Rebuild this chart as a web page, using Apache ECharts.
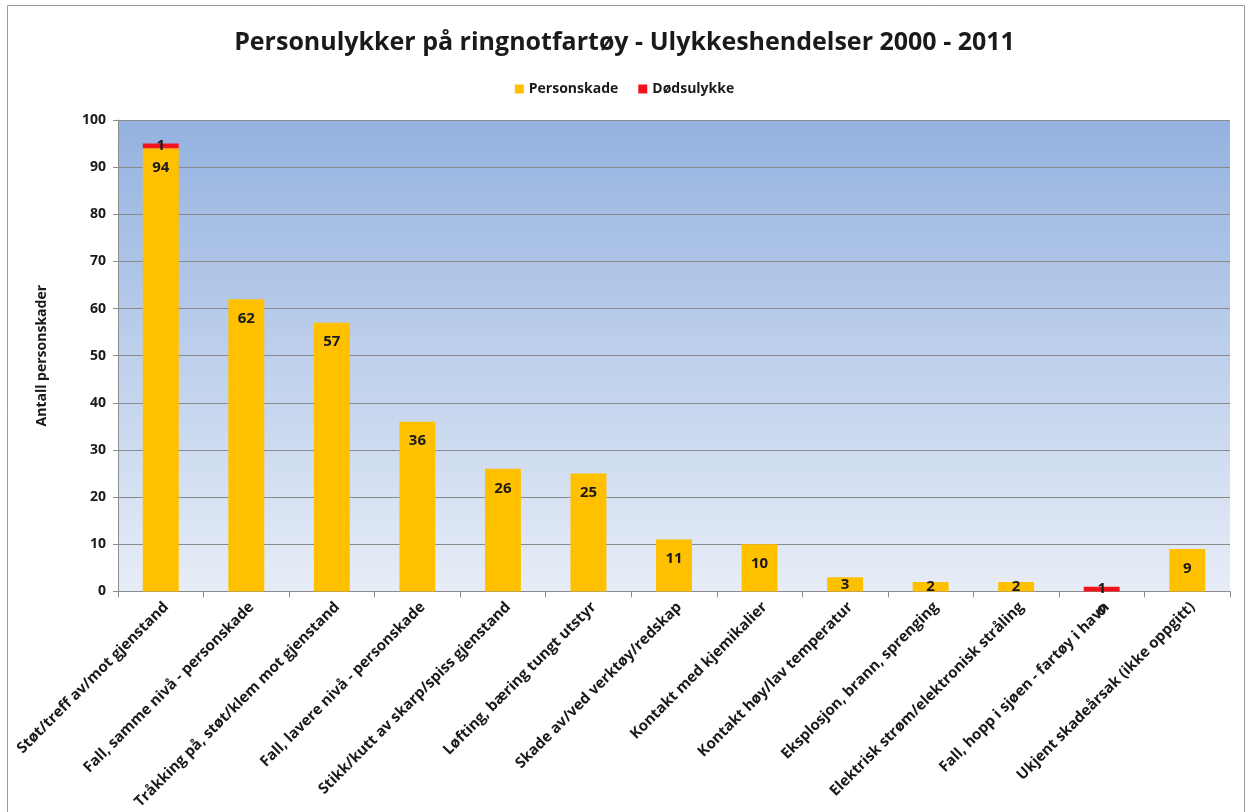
<!DOCTYPE html>
<html>
<head>
<meta charset="utf-8">
<script src="https://cdn.jsdelivr.net/npm/echarts@6/dist/echarts.min.js"></script>
<style>
  html, body { margin: 0; padding: 0; background: #ffffff; }
  #chart { width: 1249px; height: 812px; }
</style>
</head>
<body>
<div id="chart"></div>
<script>
// Skadeårsaker (kategorier)
const categories = [
  'Støt/treff av/mot gjenstand',
  'Fall, samme nivå - personskade',
  'Tråkking på, støt/klem mot gjenstand',
  'Fall, lavere nivå - personskade',
  'Stikk/kutt av skarp/spiss gjenstand',
  'Løfting, bæring tungt utstyr',
  'Skade av/ved verktøy/redskap',
  'Kontakt med kjemikalier',
  'Kontakt høy/lav temperatur',
  'Eksplosjon, brann, sprenging',
  'Elektrisk strøm/elektronisk stråling',
  'Fall, hopp i sjøen - fartøy i havn',
  'Ukjent skadeårsak (ikke oppgitt)'
];
// Personskader per kategori
const personskade = [94, 62, 57, 36, 26, 25, 11, 10, 3, 2, 2, 0, 9];
// Dødsulykker per kategori (kun der det finnes)
const dodsulykke = [1, null, null, null, null, null, null, null, null, null, null, 1, null];
const yTicks = { min: 0, max: 100, interval: 10 };

const FONT = '"Open Sans", "Noto Sans", sans-serif';
const TEXT = '#1a1a1a';

// Very short bars get their value label centred in the bar instead of at its top
const personskadeItems = personskade.map(v => ({
  value: v,
  label: (v > 0 && v < 5) ? { position: 'inside' } : undefined
}));

const chart = echarts.init(document.getElementById('chart'));

chart.setOption({
  animation: false,
  backgroundColor: '#ffffff',
  title: {
    text: 'Personulykker på ringnotfartøy - Ulykkeshendelser 2000 - 2011',
    left: 'center',
    top: 25,
    textStyle: { fontFamily: FONT, fontSize: 25, fontWeight: 'bold', color: TEXT }
  },
  legend: {
    top: 77,
    left: 'center',
    itemWidth: 9,
    itemHeight: 9,
    itemGap: 20,
    icon: 'rect',
    textStyle: { fontFamily: FONT, fontSize: 14, fontWeight: 'bold', color: TEXT },
    data: ['Personskade', 'Dødsulykke']
  },
  graphic: [{
    type: 'rect',
    shape: { x: 7.5, y: 5.5, width: 1237, height: 830 },
    style: { fill: 'none', stroke: '#9a9a9a', lineWidth: 1 },
    silent: true
  }],
  grid: {
    left: 118,
    right: 19,
    top: 120,
    bottom: 220,
    show: true,
    borderWidth: 0,
    backgroundColor: {
      type: 'linear', x: 0, y: 0, x2: 0, y2: 1,
      colorStops: [
        { offset: 0, color: '#94b2e0' },
        { offset: 1, color: '#e7edf7' }
      ]
    }
  },
  xAxis: {
    type: 'category',
    data: categories,
    axisLine: { lineStyle: { color: '#8c8c8c', width: 1 } },
    axisTick: { show: true, alignWithLabel: false, length: 6, lineStyle: { color: '#8c8c8c' } },
    axisLabel: {
      rotate: 45,
      interval: 0,
      margin: 8,
      verticalAlign: 'top',
      fontFamily: FONT,
      fontSize: 15,
      fontWeight: 'bold',
      color: TEXT
    }
  },
  yAxis: {
    type: 'value',
    min: yTicks.min,
    max: yTicks.max,
    interval: yTicks.interval,
    name: 'Antall personskader',
    nameLocation: 'middle',
    nameGap: 69,
    nameTextStyle: { fontFamily: FONT, fontSize: 14, fontWeight: 'bold', color: TEXT },
    axisLine: { show: true, lineStyle: { color: '#8c8c8c' } },
    axisTick: { show: true, length: 5, lineStyle: { color: '#8c8c8c' } },
    axisLabel: { fontFamily: FONT, fontSize: 14, fontWeight: 'bold', color: TEXT, margin: 12 },
    splitLine: { show: true, lineStyle: { color: '#8a8a8a', width: 1 } }
  },
  series: [
    {
      name: 'Personskade',
      type: 'bar',
      stack: 'total',
      data: personskadeItems,
      barCategoryGap: '58%',
      itemStyle: { color: '#ffc000' },
      label: {
        show: true,
        position: 'insideTop',
        distance: 12,
        fontFamily: FONT,
        fontSize: 15,
        fontWeight: 'bold',
        color: TEXT
      }
    },
    {
      name: 'Dødsulykke',
      type: 'bar',
      stack: 'total',
      data: dodsulykke,
      itemStyle: { color: '#f2141c' },
      label: {
        show: true,
        position: 'inside',
        fontFamily: FONT,
        fontSize: 15,
        fontWeight: 'bold',
        color: TEXT
      }
    }
  ]
});
</script>
</body>
</html>
